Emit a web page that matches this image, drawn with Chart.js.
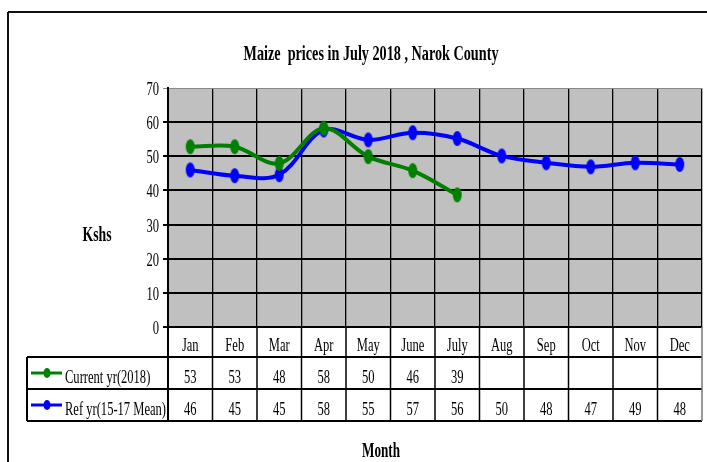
<!DOCTYPE html>
<html lang="en">
<head>
  <meta charset="UTF-8">
  <title>Maize prices in July 2018, Narok County</title>
  <script src="https://cdn.jsdelivr.net/npm/chart.js"></script>
  <style>
    html, body { margin: 0; padding: 0; background: #fff; }
    canvas { display: block; }
  </style>
</head>
<body>
  <canvas id="maizeChart" width="707" height="462"></canvas>

  <script>
    // chart values
    const months = ['Jan', 'Feb', 'Mar', 'Apr', 'May', 'June', 'July', 'Aug', 'Sep', 'Oct', 'Nov', 'Dec'];
    const currentYr = [52.8, 52.8, 47.9, 58.2, 49.9, 45.8, 38.7];
    const refYr = [46.0, 44.3, 44.6, 57.7, 54.8, 56.9, 55.2, 50.1, 48.1, 46.9, 48.1, 47.6];
    // the numbers printed in the data table
    const currentTable = ['53', '53', '48', '58', '50', '46', '39'];
    const refTable = ['46', '45', '45', '58', '55', '57', '56', '50', '48', '47', '49', '48'];
    const seriesNames = ['Current yr(2018)', 'Ref yr(15-17 Mean)'];

    const GREEN = '#008000', BLUE = '#0000ff';
    const SERIF = "'Liberation Serif', 'Times New Roman', serif";
    const SQUEEZE = 0.66; // the original text is horizontally condensed

    function ellipseMarker(color, rx, ry) {
      const c = document.createElement('canvas');
      c.width = rx * 2 + 2; c.height = ry * 2 + 2;
      const g = c.getContext('2d');
      g.fillStyle = color;
      g.beginPath();
      g.ellipse(c.width / 2, c.height / 2, rx, ry, 0, 0, Math.PI * 2);
      g.fill();
      return c;
    }

    function txt(ctx, s, x, y, font, align, sx) {
      ctx.save();
      ctx.font = font;
      ctx.fillStyle = '#000';
      ctx.textAlign = align;
      ctx.textBaseline = 'alphabetic';
      ctx.translate(x, y);
      ctx.scale(sx, 1);
      ctx.fillText(s, 0, 0);
      ctx.restore();
    }

    function txtFit(ctx, s, cx, y, font, width) {
      ctx.save();
      ctx.font = font;
      const w = ctx.measureText(s).width;
      ctx.restore();
      txt(ctx, s, cx, y, font, 'center', width / w);
    }

    function line(ctx, x1, y1, x2, y2, color, w) {
      ctx.save();
      ctx.strokeStyle = color; ctx.lineWidth = w;
      ctx.beginPath(); ctx.moveTo(x1, y1); ctx.lineTo(x2, y2); ctx.stroke();
      ctx.restore();
    }

    const framePlugin = {
      id: 'frame',
      beforeDraw(chart) {
        const { ctx, chartArea: a } = chart;
        line(ctx, 8, 12, 707, 12, '#111', 2);
        line(ctx, 8, 12, 8, 462, '#111', 2);
        ctx.fillStyle = '#c0c0c0';
        ctx.fillRect(a.left, a.top, a.right - a.left, a.bottom - a.top);
      },
      afterDraw(chart) {
        const { ctx, chartArea: a } = chart;
        const xs = chart.scales.x, ys = chart.scales.y;
        const colW = (a.right - a.left) / months.length;
        const rowTop = a.bottom, r1 = a.bottom + 30, r2 = r1 + 32, r3 = r2 + 32;
        const legLeft = 27;

        // title and axis names
        txtFit(ctx, 'Maize  prices in July 2018 , Narok County', 371, 60, 'bold 22px ' + SERIF, 255);
        txtFit(ctx, 'Kshs', 97, 241, 'bold 20px ' + SERIF, 29);
        txtFit(ctx, 'Month', 381, 457, 'bold 20px ' + SERIF, 38);

        // y tick labels
        ys.ticks.forEach(t => {
          const y = ys.getPixelForValue(t.value);
          txt(ctx, String(t.value), 159, y + 7, '19px ' + SERIF, 'right', SQUEEZE);
        });

        // data table grid
        line(ctx, legLeft, r1, a.right, r1, '#000', 2);
        line(ctx, legLeft, r2, a.right, r2, '#000', 2);
        line(ctx, legLeft, r3, a.right, r3, '#000', 2);
        line(ctx, legLeft, r1, legLeft, r3, '#000', 2);
        for (let i = 0; i <= months.length; i++) {
          const x = a.left + i * colW;
          line(ctx, x, rowTop, x, r3, i === months.length ? '#777' : '#000', i === 0 ? 2 : 1.5);
        }

        // table text
        months.forEach((m, i) => {
          const cx = xs.getPixelForValue(i);
          txt(ctx, m, cx, rowTop + 24, '19px ' + SERIF, 'center', SQUEEZE);
          if (currentTable[i]) txt(ctx, currentTable[i], cx, r1 + 26, '19px ' + SERIF, 'center', SQUEEZE);
          if (refTable[i]) txt(ctx, refTable[i], cx, r2 + 26, '19px ' + SERIF, 'center', SQUEEZE);
        });

        // legend keys inside the table
        [[GREEN, r1], [BLUE, r2]].forEach(([c, top], k) => {
          const y = top + 16;
          line(ctx, 31, y, 62, y, c, 3);
          ctx.save();
          ctx.fillStyle = c;
          ctx.beginPath(); ctx.ellipse(47, y, 3.5, 5, 0, 0, Math.PI * 2); ctx.fill();
          ctx.restore();
          txt(ctx, seriesNames[k], 65, top + 26, '19px ' + SERIF, 'left', SQUEEZE);
        });
      }
    };

    const ctx = document.getElementById('maizeChart').getContext('2d');
    new Chart(ctx, {
      type: 'line',
      data: {
        labels: months,
        datasets: [
          {
            label: seriesNames[0], data: currentYr,
            borderColor: GREEN, borderWidth: 4, tension: 0.35,
            pointStyle: ellipseMarker(GREEN, 4.5, 7.5)
          },
          {
            label: seriesNames[1], data: refYr,
            borderColor: BLUE, borderWidth: 4, tension: 0.35,
            pointStyle: ellipseMarker(BLUE, 4.5, 7.5)
          }
        ]
      },
      options: {
        responsive: false, animation: false,
        events: [],
        layout: { autoPadding: false, padding: { top: 88, right: 5, left: 0, bottom: 0 } },
        plugins: { legend: { display: false }, title: { display: false }, tooltip: { enabled: false } },
        scales: {
          x: {
            offset: true,
            ticks: { display: false },
            grid: {
              offset: true, drawTicks: false,
              color: c => c.index === months.length ? '#888' : '#000',
              lineWidth: 1.3
            },
            border: { display: true, color: '#000', width: 2 },
            afterFit: s => { s.height = 135; }
          },
          y: {
            min: 0, max: 70,
            ticks: { stepSize: 10, display: false },
            grid: {
              color: c => c.tick && c.tick.value === 70 ? '#888' : '#000',
              lineWidth: c => c.tick && c.tick.value === 70 ? 1 : 2,
              tickLength: 5
            },
            border: { display: true, color: '#000', width: 2 },
            afterFit: s => { s.width = 168; }
          }
        }
      },
      plugins: [framePlugin]
    });
  </script>
</body>
</html>
